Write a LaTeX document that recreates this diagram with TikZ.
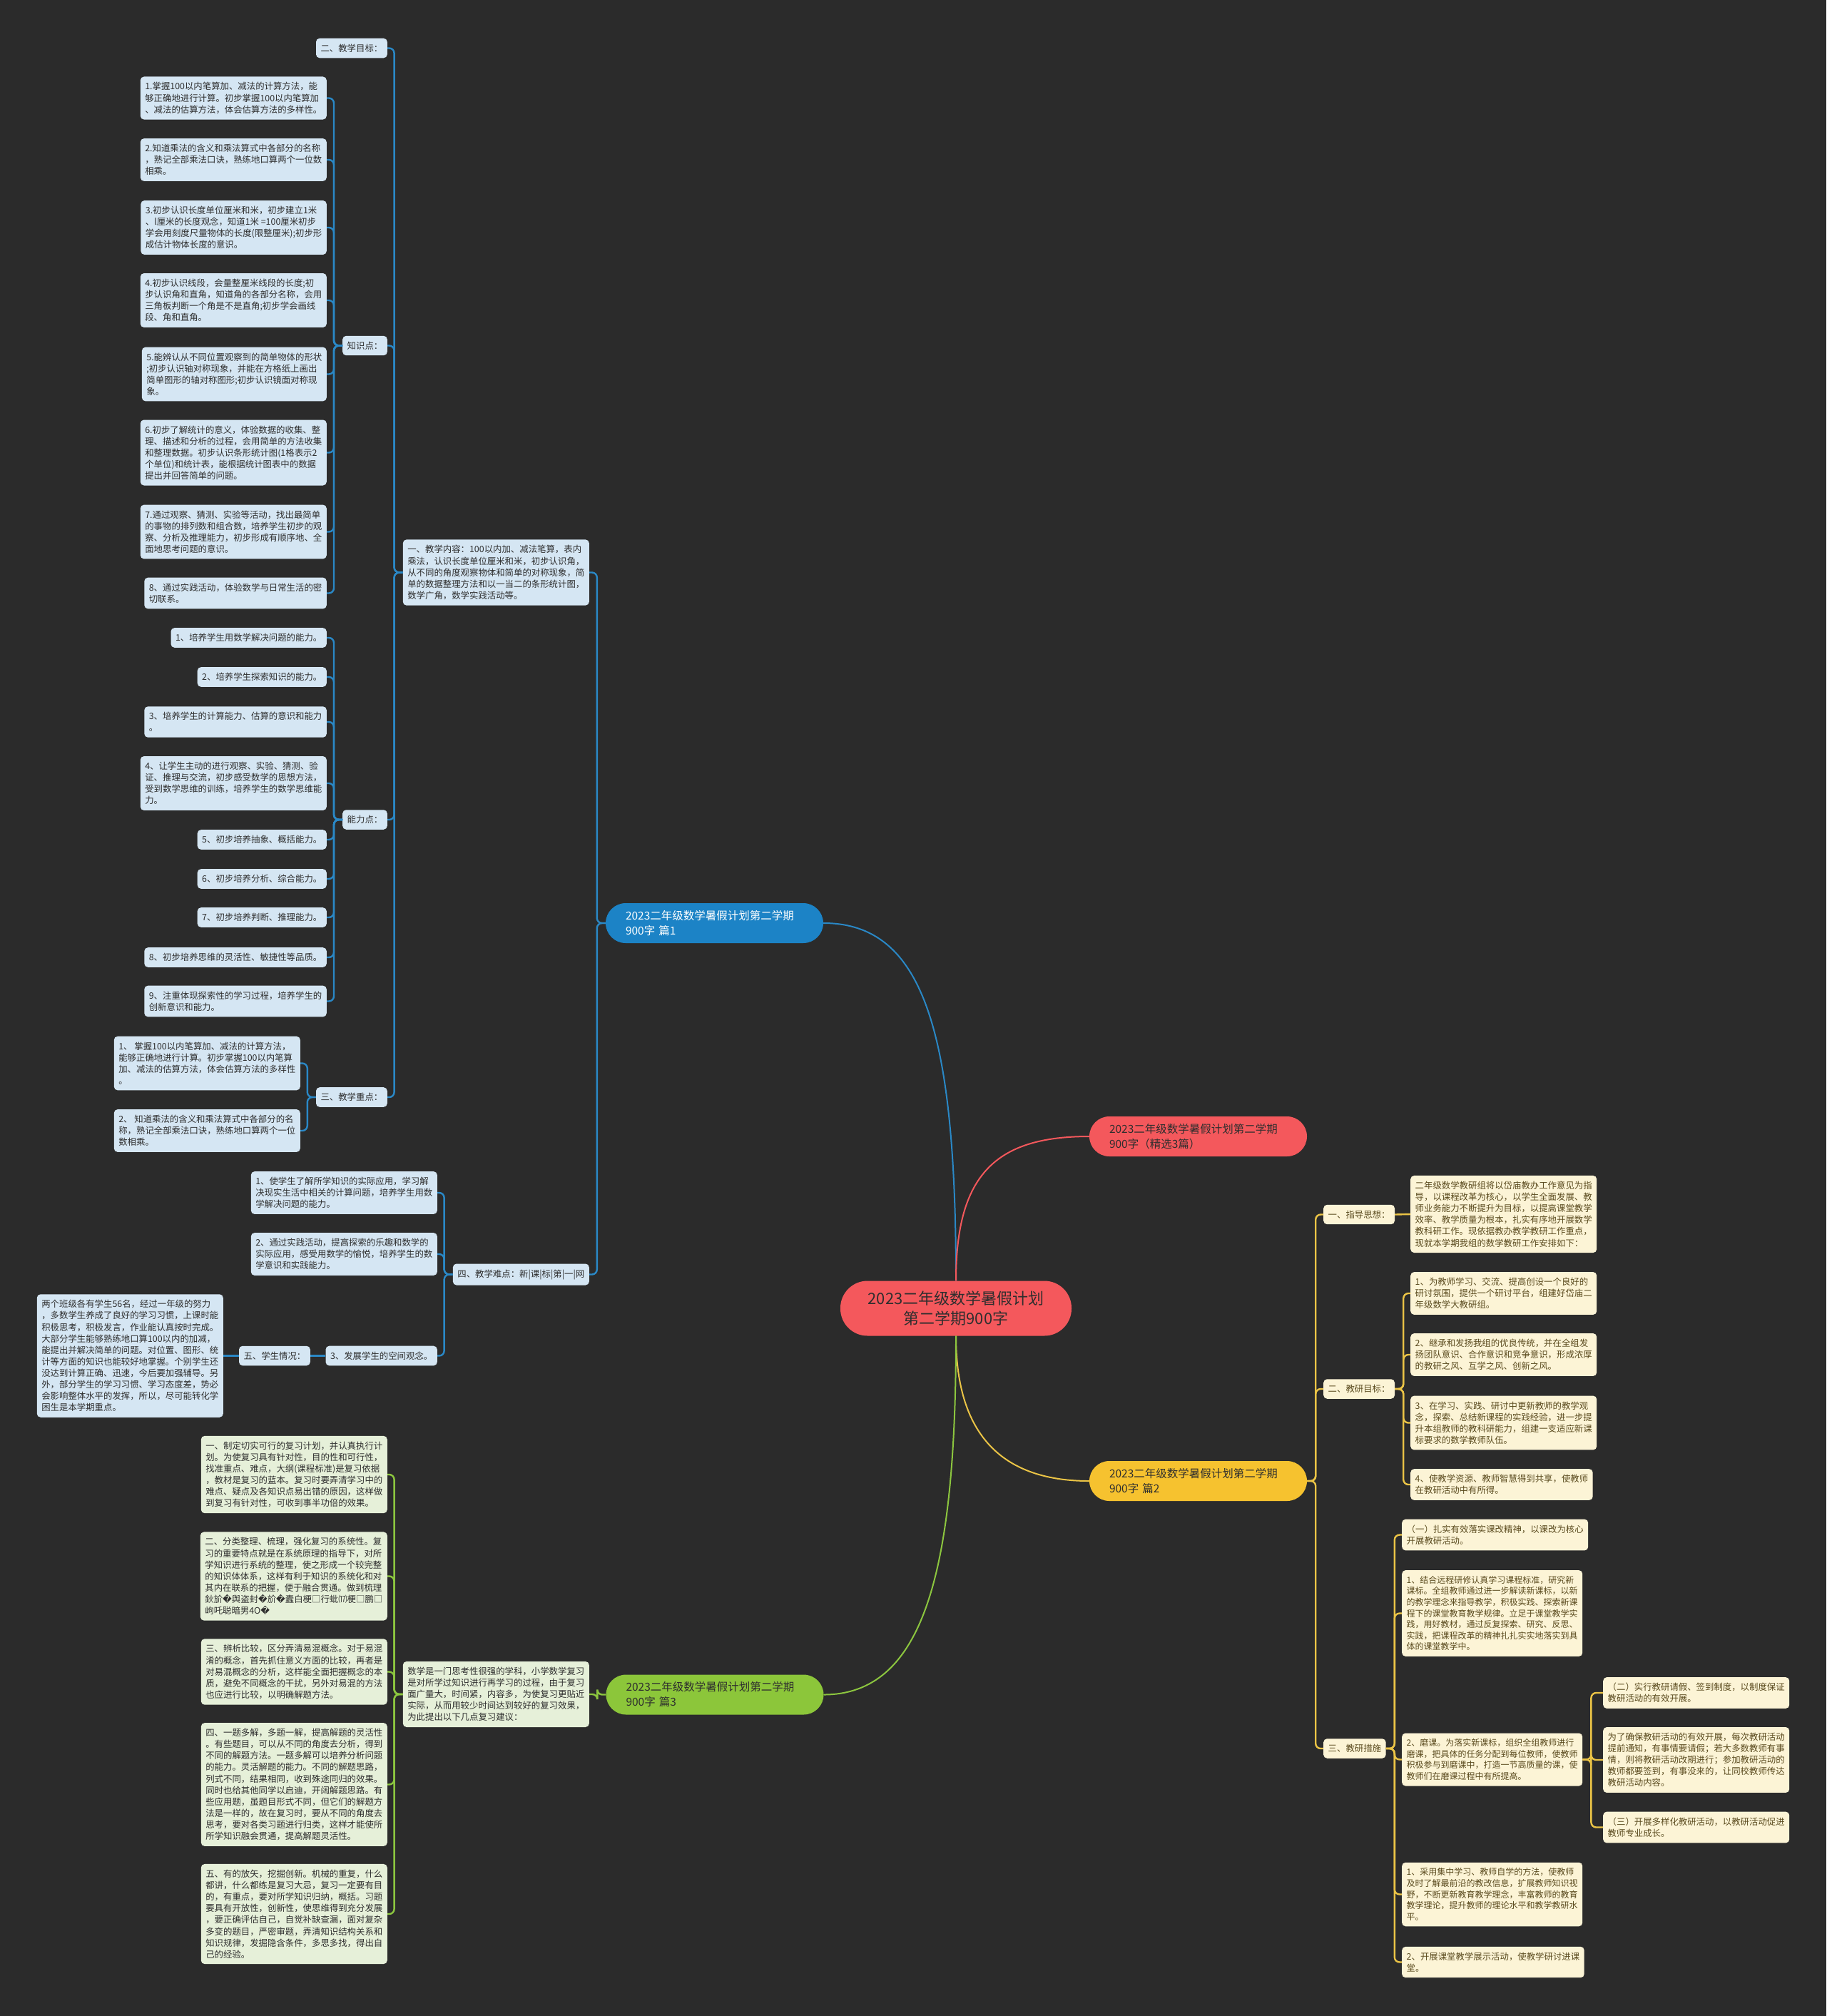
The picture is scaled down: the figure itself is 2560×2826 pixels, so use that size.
\documentclass[tikz,border=0pt]{standalone}
\usepackage{fontspec}
\newfontfamily\cjk{Noto Sans CJK SC}
\newfontfamily\djv{DejaVu Sans}
\newcommand{\rpc}{{\djv\char"FFFD}}
\definecolor{bgc}{HTML}{2B2B2B}
\definecolor{redc}{HTML}{F4585C}
\definecolor{bluec}{HTML}{1C83C6}
\definecolor{bluel}{HTML}{2A88C6}
\definecolor{yelc}{HTML}{F6C22F}
\definecolor{yell}{HTML}{EBC446}
\definecolor{grnc}{HTML}{8CC63A}
\definecolor{grnl}{HTML}{8CC63F}
\definecolor{bleafc}{HTML}{D5E6F3}
\definecolor{yleafc}{HTML}{FCF4D6}
\definecolor{gleafc}{HTML}{E6F0D9}
\definecolor{btxt}{HTML}{2E2E2E}
\definecolor{ytxt}{HTML}{5A4A1E}
\definecolor{gtxt}{HTML}{2E2E2E}
\newcommand{\lconn}[3]{\draw[#1] (#2.west) -- ++(-12,0) |- (#3.east);}
\newcommand{\rconn}[3]{\draw[#1] (#2.east) -- ++(12,0) |- (#3.west);}
\begin{document}
\begin{tikzpicture}[x=1pt,y=-1pt,
  leaf/.style={rounded corners=5pt, align=left, inner xsep=6.5pt, inner ysep=8pt, font=\cjk\fontsize{12.4}{16.1}\selectfont},
  bleaf/.style={leaf, fill=bleafc, text=btxt, anchor=east},
  yleaf/.style={leaf, fill=yleafc, text=ytxt, anchor=west},
  gleaf/.style={leaf, fill=gleafc, text=gtxt, anchor=east},
  lone/.style={rounded corners=28pt, minimum width=305pt, minimum height=56pt, inner xsep=28pt, inner ysep=0pt, text width=249pt, align=left, font=\cjk\fontsize{15.5}{21}\selectfont},
  bline/.style={draw=bluel, line width=2.4pt, rounded corners=7pt},
  yline/.style={draw=yell, line width=2.4pt, rounded corners=7pt},
  gline/.style={draw=grnl, line width=2.4pt, rounded corners=7pt},
  curve/.style={line width=2pt}]
\useasboundingbox (0,0) rectangle (2560,2826);
\fill[bgc] (0,0) rectangle (2560,2826);

% central and first-level nodes
\node[fill=redc, rounded corners=38pt, minimum width=324pt, minimum height=77pt, align=center, text=btxt, font=\cjk\fontsize{22}{28}\selectfont] (c) at (1340,1834) {2023二年级数学暑假计划\\第二学期900字};
\node[lone, fill=bluec, text=white] (blue) at (1001.5,1294) {2023二年级数学暑假计划第二学期\\900字 篇1};
\node[lone, fill=redc, text=btxt] (red) at (1679.5,1593) {2023二年级数学暑假计划第二学期\\900字（精选3篇）};
\node[lone, fill=yelc, text=btxt] (yel) at (1679.5,2076) {2023二年级数学暑假计划第二学期\\900字 篇2};
\node[lone, fill=grnc, text=btxt] (grn) at (1002,2375.5) {2023二年级数学暑假计划第二学期\\900字 篇3};

\draw[bluel, curve] (c.north) .. controls +(0,-350) and +(140,0) .. (blue.east);
\draw[redc, curve] (c.north) .. controls +(0,-150) and +(-130,0) .. (red.west);
\draw[yell, curve] (c.south) .. controls +(0,130) and +(-130,0) .. (yel.west);
\draw[grnl, curve] (c.south) .. controls +(0,330) and +(140,0) .. (grn.east);

% ---------- blue branch ----------
\node[bleaf] (b1) at (826,802.5) {一、教学内容：100以内加、减法笔算，表内\\乘法，认识长度单位厘米和米，初步认识角，\\从不同的角度观察物体和简单的对称现象，简\\单的数据整理方法和以一当二的条形统计图，\\数学广角，数学实践活动等。};
\node[bleaf] (b4) at (826,1786.5) {四、教学难点：新|课|标|第|一|网};
\node[bleaf] (goal) at (543,67.5) {二、教学目标：};
\node[bleaf] (zsd) at (543,484.5) {知识点：};
\node[bleaf] (nld) at (543,1149) {能力点：};
\node[bleaf] (zd) at (543,1538) {三、教学重点：};

\node[bleaf] (k1) at (458,137.5) {1.掌握100以内笔算加、减法的计算方法，能\\够正确地进行计算。初步掌握100以内笔算加\\、减法的估算方法，体会估算方法的多样性。};
\node[bleaf] (k2) at (458,224) {2.知道乘法的含义和乘法算式中各部分的名称\\，熟记全部乘法口诀，熟练地口算两个一位数\\相乘。};
\node[bleaf] (k3) at (458,319) {3.初步认识长度单位厘米和米，初步建立1米\\、l厘米的长度观念，知道1米 =100厘米初步\\学会用刻度尺量物体的长度(限整厘米);初步形\\成估计物体长度的意识。};
\node[bleaf] (k4) at (458,421) {4.初步认识线段，会量整厘米线段的长度;初\\步认识角和直角，知道角的各部分名称，会用\\三角板判断一个角是不是直角;初步学会画线\\段、角和直角。};
\node[bleaf] (k5) at (458,524.5) {5.能辨认从不同位置观察到的简单物体的形状\\;初步认识轴对称现象，并能在方格纸上画出\\简单图形的轴对称图形;初步认识镜面对称现\\象。};
\node[bleaf] (k6) at (458,634.5) {6.初步了解统计的意义，体验数据的收集、整\\理、描述和分析的过程，会用简单的方法收集\\和整理数据。初步认识条形统计图(1格表示2\\个单位)和统计表，能根据统计图表中的数据\\提出并回答简单的问题。};
\node[bleaf] (k7) at (458,745.5) {7.通过观察、猜测、实验等活动，找出最简单\\的事物的排列数和组合数，培养学生初步的观\\察、分析及推理能力，初步形成有顺序地、全\\面地思考问题的意识。};
\node[bleaf] (k8) at (458,831.5) {8、通过实践活动，体验数学与日常生活的密\\切联系。};

\node[bleaf] (a1) at (458,894) {1、培养学生用数学解决问题的能力。};
\node[bleaf] (a2) at (458,949) {2、培养学生探索知识的能力。};
\node[bleaf] (a3) at (458,1012) {3、培养学生的计算能力、估算的意识和能力\\。};
\node[bleaf] (a4) at (458,1098) {4、让学生主动的进行观察、实验、猜测、验\\证、推理与交流，初步感受数学的思想方法，\\受到数学思维的训练，培养学生的数学思维能\\力。};
\node[bleaf] (a5) at (458,1177) {5、初步培养抽象、概括能力。};
\node[bleaf] (a6) at (458,1232) {6、初步培养分析、综合能力。};
\node[bleaf] (a7) at (458,1286) {7、初步培养判断、推理能力。};
\node[bleaf] (a8) at (458,1342) {8、初步培养思维的灵活性、敏捷性等品质。};
\node[bleaf] (a9) at (458,1403.5) {9、注重体现探索性的学习过程，培养学生的\\创新意识和能力。};

\node[bleaf] (z1) at (421,1490.5) {1、 掌握100以内笔算加、减法的计算方法，\\能够正确地进行计算。初步掌握100以内笔算\\加、减法的估算方法，体会估算方法的多样性\\。};
\node[bleaf] (z2) at (421,1585) {2、 知道乘法的含义和乘法算式中各部分的名\\称，熟记全部乘法口诀，熟练地口算两个一位\\数相乘。};

\node[bleaf] (n1) at (613,1672) {1、使学生了解所学知识的实际应用，学习解\\决现实生活中相关的计算问题，培养学生用数\\学解决问题的能力。};
\node[bleaf] (n2) at (613,1758) {2、通过实践活动，提高探索的乐趣和数学的\\实际应用，感受用数学的愉悦，培养学生的数\\学意识和实践能力。};
\node[bleaf] (n3) at (613,1900.5) {3、发展学生的空间观念。};
\node[bleaf] (wu) at (435,1900.5) {五、学生情况：};
\node[bleaf] (p) at (313,1900.5) {两个班级各有学生56名，经过一年级的努力\\，多数学生养成了良好的学习习惯，上课时能\\积极思考，积极发言，作业能认真按时完成。\\大部分学生能够熟练地口算100以内的加减，\\能提出并解决简单的问题。对位置、图形、统\\计等方面的知识也能较好地掌握。个别学生还\\没达到计算正确、迅速，今后要加强辅导。另\\外，部分学生的学习习惯、学习态度差，势必\\会影响整体水平的发挥，所以，尽可能转化学\\困生是本学期重点。};

\lconn{bline}{blue}{b1}
\lconn{bline}{blue}{b4}
\lconn{bline}{b1}{goal}
\lconn{bline}{b1}{zsd}
\lconn{bline}{b1}{nld}
\lconn{bline}{b1}{zd}
\foreach \i in {k1,k2,k3,k4,k5,k6,k7,k8} {\lconn{bline}{zsd}{\i}}
\foreach \i in {a1,a2,a3,a4,a5,a6,a7,a8,a9} {\lconn{bline}{nld}{\i}}
\lconn{bline}{zd}{z1}
\lconn{bline}{zd}{z2}
\lconn{bline}{b4}{n1}
\lconn{bline}{b4}{n2}
\lconn{bline}{b4}{n3}
\draw[bline] (n3.west) -- (wu.east);
\draw[bline] (wu.west) -- (p.east);

% ---------- yellow branch ----------
\node[yleaf] (y1) at (1855,1702.5) {一、指导思想：};
\node[yleaf] (y2) at (1855,1947) {二、教研目标：};
\node[yleaf] (y3) at (1855,2451) {三、教研措施};
\node[yleaf] (g1) at (1977,1702) {二年级数学教研组将以岱庙教办工作意见为指\\导，以课程改革为核心，以学生全面发展、教\\师业务能力不断提升为目标，以提高课堂教学\\效率、教学质量为根本，扎实有序地开展数学\\教科研工作。现依据教办教学教研工作重点，\\现就本学期我组的数学教研工作安排如下：};
\node[yleaf] (t1) at (1977,1813) {1、为教师学习、交流、提高创设一个良好的\\研讨氛围，提供一个研讨平台，组建好岱庙二\\年级数学大教研组。};
\node[yleaf] (t2) at (1977,1899) {2、继承和发扬我组的优良传统，并在全组发\\扬团队意识、合作意识和竞争意识，形成浓厚\\的教研之风、互学之风、创新之风。};
\node[yleaf] (t3) at (1977,1994.5) {3、在学习、实践、研讨中更新教师的教学观\\念，探索、总结新课程的实践经验，进一步提\\升本组教师的教科研能力，组建一支适应新课\\标要求的数学教师队伍。};
\node[yleaf] (t4) at (1977,2081) {4、使教学资源、教师智慧得到共享，使教师\\在教研活动中有所得。};
\node[yleaf] (m1) at (1965,2151.5) {（一）扎实有效落实课改精神，以课改为核心\\开展教研活动。};
\node[yleaf, font=\cjk\fontsize{12}{15.6}\selectfont] (m2) at (1965,2261.5) {1、结合远程研修认真学习课程标准，研究新\\课标。全组教师通过进一步解读新课标，以新\\的教学理念来指导教学，积极实践、探索新课\\程下的课堂教育教学规律。立足于课堂教学实\\践，用好教材，通过反复探索、研究、反思、\\实践，把课程改革的精神扎扎实实地落实到具\\体的课堂教学中。};
\node[yleaf, font=\cjk\fontsize{12}{15.6}\selectfont] (m3) at (1965,2466.5) {2、磨课。为落实新课标，组织全组教师进行\\磨课，把具体的任务分配到每位教师，使教师\\积极参与到磨课中，打造一节高质量的课，使\\教师们在磨课过程中有所提高。};
\node[yleaf, font=\cjk\fontsize{12}{15.6}\selectfont] (m4) at (1965,2655.5) {1、采用集中学习、教师自学的方法，使教师\\及时了解最前沿的教改信息，扩展教师知识视\\野，不断更新教育教学理念，丰富教师的教育\\教学理论，提升教师的理论水平和教学教研水\\平。};
\node[yleaf] (m5) at (1965,2750.5) {2、开展课堂教学展示活动，使教学研讨进课\\堂。};
\node[yleaf] (q1) at (2247,2373) {（二）实行教研请假、签到制度，以制度保证\\教研活动的有效开展。};
\node[yleaf] (q2) at (2247,2467) {为了确保教研活动的有效开展，每次教研活动\\提前通知，有事情要请假；若大多数教师有事\\情，则将教研活动改期进行；参加教研活动的\\教师都要签到，有事没来的，让同校教师传达\\教研活动内容。};
\node[yleaf] (q3) at (2247,2561.5) {（三）开展多样化教研活动，以教研活动促进\\教师专业成长。};

\rconn{yline}{yel}{y1}
\rconn{yline}{yel}{y2}
\rconn{yline}{yel}{y3}
\draw[yline] (y1.east) -- (g1.west);
\foreach \i in {t1,t2,t3,t4} {\rconn{yline}{y2}{\i}}
\foreach \i in {m1,m2,m3,m4,m5} {\rconn{yline}{y3}{\i}}
\foreach \i in {q1,q2,q3} {\rconn{yline}{m3}{\i}}

% ---------- green branch ----------
\node[gleaf] (intro) at (826,2375) {数学是一门思考性很强的学科，小学数学复习\\是对所学过知识进行再学习的过程，由于复习\\面广量大，时间紧，内容多，为使复习更贴近\\实际，从而用较少时间达到较好的复习效果，\\为此提出以下几点复习建议：};
\node[gleaf] (r1) at (543,2067) {一、制定切实可行的复习计划，并认真执行计\\划。为使复习具有针对性，目的性和可行性，\\找准重点、难点，大纲(课程标准)是复习依据\\，教材是复习的蓝本。复习时要弄清学习中的\\难点、疑点及各知识点易出错的原因，这样做\\到复习有针对性，可收到事半功倍的效果。};
\node[gleaf] (r2) at (543,2209.5) {二、分类整理、梳理，强化复习的系统性。复\\习的重要特点就是在系统原理的指导下，对所\\学知识进行系统的整理，使之形成一个较完整\\的知识体体系，这样有利于知识的系统化和对\\其内在联系的把握，便于融合贯通。做到梳理\\鈥斺\rpc 舆盗封\rpc 斺\rpc 蠹白梗□行蚍⒄梗□鹏□\\岣吒聪暗男4O\rpc};
\node[gleaf] (r3) at (543,2343.5) {三、辨析比较，区分弄清易混概念。对于易混\\淆的概念，首先抓住意义方面的比较，再者是\\对易混概念的分析，这样能全面把握概念的本\\质，避免不同概念的干扰，另外对易混的方法\\也应进行比较，以明确解题方法。};
\node[gleaf] (r4) at (543,2501.5) {四、一题多解，多题一解，提高解题的灵活性\\。有些题目，可以从不同的角度去分析，得到\\不同的解题方法。一题多解可以培养分析问题\\的能力。灵活解题的能力。不同的解题思路，\\列式不同，结果相同，收到殊途同归的效果。\\同时也给其他同学以启迪，开阔解题思路。有\\些应用题，虽题目形式不同，但它们的解题方\\法是一样的，故在复习时，要从不同的角度去\\思考，要对各类习题进行归类，这样才能使所\\所学知识融会贯通，提高解题灵活性。};
\node[gleaf] (r5) at (543,2683) {五、有的放矢，挖掘创新。机械的重复，什么\\都讲，什么都练是复习大忌，复习一定要有目\\的，有重点，要对所学知识归纳，概括。习题\\要具有开放性，创新性，使思维得到充分发展\\，要正确评估自己，自觉补缺查漏，面对复杂\\多变的题目，严密审题，弄清知识结构关系和\\知识规律，发掘隐含条件，多思多找，得出自\\己的经验。};

\lconn{gline}{grn}{intro}
\foreach \i in {r1,r2,r3,r4,r5} {\lconn{gline}{intro}{\i}}
\end{tikzpicture}
\end{document}
